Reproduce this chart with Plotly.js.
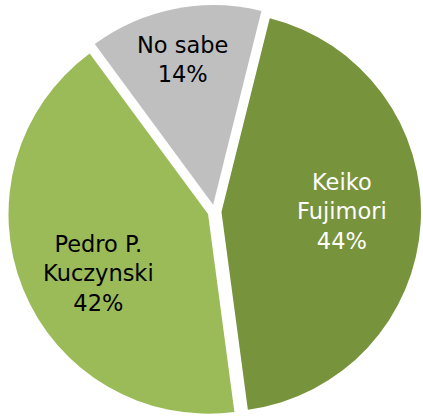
<!DOCTYPE html>
<html>
<head>
<meta charset="utf-8">
<script src="https://cdn.plot.ly/plotly-3.0.1.min.js"></script>
<style>html,body{margin:0;padding:0;background:#fff;}#chart{width:423px;height:420px;}</style>
</head>
<body>
<div id="chart"></div>
<script>
const labels = ["Keiko<br>Fujimori", "Pedro P.<br>Kuczynski", "No sabe"];
const values = [44, 42, 14];
const colors = ["#77933C", "#9BBB59", "#BFBFBF"];
const textColors = ["#FFFFFF", "#000000", "#000000"];

// label anchor points (paper coordinates), layout only
const labelX = [0.809, 0.218, 0.423];
const labelY = [0.499, 0.351, 0.868];

const annotations = labels.map((l, i) => ({
  xref: "paper", yref: "paper",
  x: labelX[i], y: labelY[i],
  xanchor: "center", yanchor: "middle",
  text: l + "<br>" + values[i] + "%",
  showarrow: false,
  align: "center",
  font: {family: "DejaVu Sans", size: 22.5, color: textColors[i]}
}));

Plotly.newPlot("chart", [{
  type: "pie",
  labels: labels,
  values: values,
  sort: false,
  direction: "clockwise",
  rotation: 14,
  pull: [0.035, 0.035, 0.035],
  marker: {colors: colors, line: {width: 0}},
  textinfo: "none",
  hoverinfo: "none"
}], {
  width: 423, height: 420,
  margin: {l: 8, r: 2, t: 5, b: 2},
  showlegend: false,
  paper_bgcolor: "#FFFFFF",
  annotations: annotations
}, {staticPlot: true});
</script>
</body>
</html>
